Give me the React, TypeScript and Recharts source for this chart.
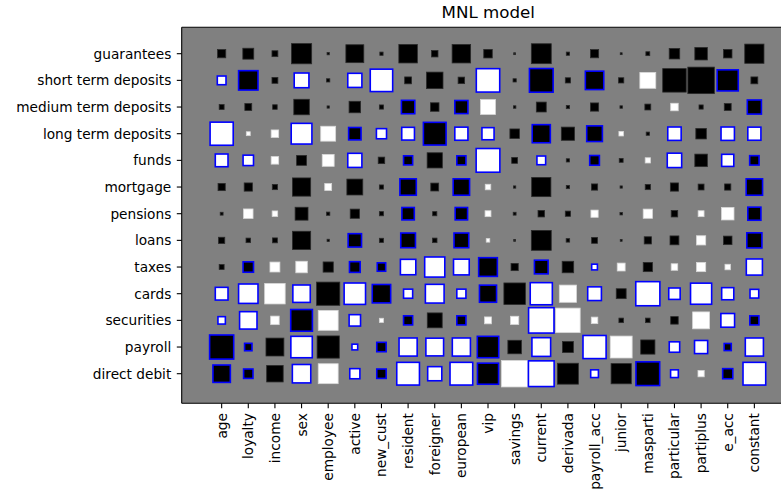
import React from 'react';
import { ScatterChart, Scatter, XAxis, YAxis, ZAxis, CartesianGrid, ReferenceLine } from 'recharts';

const colLabels = [
  'age', 'loyalty', 'income', 'sex', 'employee', 'active', 'new_cust', 'resident', 'foreigner', 'european',
  'vip', 'savings', 'current', 'derivada', 'payroll_acc', 'junior', 'masparti', 'particular', 'partiplus', 'e_acc', 'constant',
];
const rowLabels = [
  'guarantees', 'short term deposits', 'medium term deposits', 'long term deposits', 'funds', 'mortgage',
  'pensions', 'loans', 'taxes', 'cards', 'securities', 'payroll', 'direct debit',
];

// coefficient per product (row) and variable (column); sign = colour, magnitude = area
const guarantees = [-0.114, -0.193, -0.063, -0.62, -0.013, -0.492, -0.023, -0.524, -0.075, -0.524, -0.122, -0.01, -0.603, -0.023, -0.114, -0.01, -0.031, -0.18, -0.249, -0.122, -0.563];
const shortTerm = [0.149, -0.62, -0.063, 0.374, -0.023, 0.347, 0.81, -0.083, -0.421, -0.075, 0.879, -0.023, -0.9, -0.051, -0.563, -0.051, 0.392, -0.83, -1.048, -0.725, -0.083];
const mediumTerm = [-0.046, -0.083, -0.04, -0.374, -0.013, -0.213, -0.035, -0.316, -0.122, -0.304, 0.347, -0.015, -0.161, -0.023, -0.114, -0.015, -0.063, 0.097, -0.035, -0.083, -0.347];
const longTerm = [0.858, 0.031, 0.097, 0.699, 0.347, -0.276, 0.193, 0.288, -0.83, 0.304, 0.264, -0.149, -0.546, -0.276, -0.421, 0.04, -0.023, 0.316, -0.18, 0.316, 0.304];
const funds = [0.288, 0.203, 0.097, -0.161, 0.227, 0.347, -0.075, -0.161, -0.36, -0.161, 0.9, -0.063, 0.149, -0.023, -0.18, -0.031, 0.051, 0.36, -0.249, 0.264, -0.17];
const mortgage = [-0.09, -0.114, -0.051, -0.508, 0.083, -0.392, -0.035, -0.456, -0.106, -0.456, 0.056, -0.013, -0.563, -0.023, -0.069, -0.013, -0.051, -0.114, -0.063, -0.069, -0.456];
const pensions = [-0.019, 0.149, 0.056, -0.264, -0.023, -0.141, -0.035, -0.276, -0.035, -0.276, 0.063, -0.019, -0.075, -0.051, 0.09, -0.015, 0.141, -0.075, 0.063, 0.249, -0.304];
const loans = [-0.069, -0.04, -0.046, -0.508, -0.013, -0.316, -0.035, -0.374, -0.04, -0.374, 0.026, -0.01, -0.603, -0.026, -0.063, -0.01, -0.09, -0.132, 0.141, -0.122, -0.392];
const taxes = [-0.046, -0.203, 0.161, 0.213, -0.17, -0.213, -0.141, 0.406, 0.662, 0.421, -0.58, -0.09, -0.329, -0.213, 0.075, 0.106, -0.141, 0.075, 0.141, 0.056, 0.441];
const cards = [0.288, 0.62, 0.638, 0.508, -0.81, 0.744, -0.563, 0.161, 0.58, 0.161, -0.492, -0.699, 0.79, 0.456, 0.329, -0.161, 0.929, 0.238, 0.725, 0.264, 0.149];
const securities = [0.114, 0.508, 0.122, -0.764, 0.603, 0.238, 0.035, -0.161, -0.347, -0.161, 0.083, 0.114, 1.025, 0.9, 0.075, -0.04, -0.04, -0.097, 0.441, 0.329, -0.161];
const payroll = [-0.929, -0.114, -0.492, 0.744, -0.744, 0.075, -0.17, 0.546, 0.524, 0.546, -0.744, -0.288, 0.58, -0.193, 0.858, 0.725, -0.316, 0.203, 0.304, -0.106, 0.546];
const directDebit = [-0.508, -0.17, -0.421, 0.563, 0.603, 0.193, -0.17, 0.83, 0.347, 0.83, -0.725, 1.048, 1.048, -0.662, 0.122, -0.62, -0.9, 0.122, 0.069, -0.193, 0.83];

// columns whose coefficient is significant (blue edge)
const sigGuarantees: number[] = [];
const sigShortTerm = [0, 1, 3, 5, 6, 10, 12, 14, 19];
const sigMediumTerm = [7, 9, 20];
const sigLongTerm = [0, 3, 5, 6, 7, 8, 9, 10, 12, 14, 17, 19, 20];
const sigFunds = [0, 1, 5, 7, 9, 10, 12, 14, 17, 19, 20];
const sigMortgage = [7, 9, 20];
const sigPensions = [7, 9, 20];
const sigLoans = [5, 7, 9, 20];
const sigTaxes = [1, 5, 6, 7, 8, 9, 10, 12, 14, 20];
const sigCards = [0, 1, 3, 5, 6, 7, 8, 9, 10, 12, 14, 16, 17, 18, 19, 20];
const sigSecurities = [0, 1, 3, 5, 7, 9, 12, 19, 20];
const sigPayroll = [0, 1, 3, 5, 6, 7, 8, 9, 10, 12, 14, 17, 18, 19, 20];
const sigDirectDebit = [0, 1, 3, 5, 6, 7, 8, 9, 10, 12, 14, 16, 17, 19, 20];

const weights = [guarantees, shortTerm, mediumTerm, longTerm, funds, mortgage, pensions, loans, taxes, cards, securities, payroll, directDebit];
const significant = [sigGuarantees, sigShortTerm, sigMediumTerm, sigLongTerm, sigFunds, sigMortgage, sigPensions, sigLoans, sigTaxes, sigCards, sigSecurities, sigPayroll, sigDirectDebit];

const points = weights.flatMap((row, r) =>
  row.map((w, c) => ({ x: c, y: r, z: Math.abs(w), w, sig: significant[r].includes(c) }))
);

const FONT = '"DejaVu Sans", sans-serif';
const CELL = 26.67;
const MAX_AREA = (Math.PI * CELL * CELL) / 4; // area of a full cell when |w| = 1

const HintonSquare = (props: any) => {
  const { cx, cy, width, payload } = props;
  const sw = payload.sig ? 1.6 : 0.8;
  const side = Math.max(width - sw, 0.5);
  const fill = payload.w > 0 ? '#ffffff' : '#000000';
  const stroke = payload.sig ? '#0000ff' : payload.w > 0 ? '#d8d8d8' : '#2a2a2a';
  return <rect x={cx - side / 2} y={cy - side / 2} width={side} height={side} fill={fill} stroke={stroke} strokeWidth={sw} />;
};

const XTick = (props: any) => {
  const { x, y, payload } = props;
  return (
    <text x={x} y={y} transform={`rotate(-90 ${x} ${y})`} textAnchor="end" dominantBaseline="central"
      fontFamily={FONT} fontSize={13.7} fill="#000">
      {colLabels[payload.value]}
    </text>
  );
};

export default function App() {
  return (
    <div style={{ position: 'relative', width: 781, height: 495, background: '#fff' }}>
      <style>{'body{margin:0;overflow:hidden}'}</style>
      <div style={{ position: 'absolute', left: 288.3, top: 2, width: 400, textAlign: 'center', fontFamily: FONT, fontSize: 16.7, lineHeight: '20px', color: '#000' }}>
        MNL model
      </div>
      <ScatterChart width={781} height={495} margin={{ top: 27.3, right: 0, bottom: 0, left: 0 }}>
        <CartesianGrid fill="#808080" horizontal={false} vertical={false} stroke="none" />
        <XAxis type="number" dataKey="x" domain={[-1.5, 21]} allowDataOverflow ticks={colLabels.map((_, i) => i)}
          interval={0} height={91.7} tick={<XTick />} tickSize={4.9} tickMargin={4.9}
          axisLine={{ stroke: '#000', strokeWidth: 1.1 }} tickLine={{ stroke: '#000', strokeWidth: 1.1 }} />
        <YAxis type="number" dataKey="y" domain={[-0.99, 13.11]} allowDataOverflow reversed ticks={rowLabels.map((_, i) => i)}
          interval={0} width={181.7} tickFormatter={(v: number) => rowLabels[v]} tickSize={4.9} tickMargin={5.5}
          tick={{ fontFamily: FONT, fontSize: 13.7, fill: '#000' }}
          axisLine={{ stroke: '#000', strokeWidth: 1.1 }} tickLine={{ stroke: '#000', strokeWidth: 1.1 }} />
        <ZAxis type="number" dataKey="z" domain={[0, 2]} range={[0, 2 * MAX_AREA]} />
        <ReferenceLine y={-0.99} stroke="#000" strokeWidth={1.1} />
        <Scatter data={points} shape={<HintonSquare />} isAnimationActive={false} />
      </ScatterChart>
    </div>
  );
}
